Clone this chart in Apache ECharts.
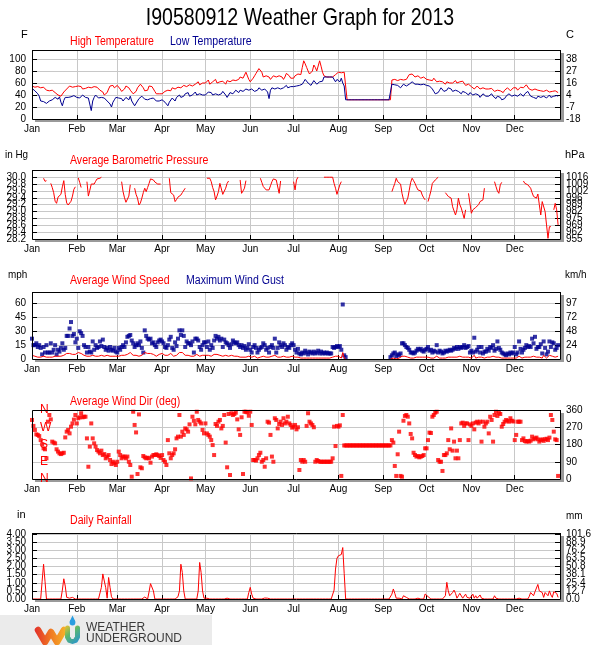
<!DOCTYPE html>
<html>
<head>
<meta charset="utf-8">
<script src="https://cdn.jsdelivr.net/npm/echarts@6/dist/echarts.min.js"></script>
<style>
html, body { margin: 0; padding: 0; background: #fff; }
#chart { width: 600px; height: 645px; }
</style>
</head>
<body>
<div id="chart"></div>
<script>
// month axis
var monthNames = ['Jan','Feb','Mar','Apr','May','Jun','Jul','Aug','Sep','Oct','Nov','Dec'];
var monthStarts = [0,31,59,90,120,151,181,212,243,273,304,334];

// left / right tick labels
var fahrenheitLabels = ['0','20','40','60','80','100'];
var celsiusLabels = ['-18','-7','4','16','27','38'];                       // 0..100 F step 20
var inHgLabels = ['28.2','28.4','28.6','28.8','29.0','29.2','29.4','29.6','29.8','30.0'];
var hpaLabels = ['955','962','969','975','982','989','996','1002','1009','1016'];
var mphLabels = ['0','15','30','45','60'];
var kmhLabels = ['0','24','48','72','97'];
var compassLabels = ['N','E','S','W','N'];                                 // 0..360 step 90
var degLabels = ['0','90','180','270','360'];
var inchLabels = ['0.00','0.50','1.00','1.50','2.00','2.50','3.00','3.50','4.00'];
var mmLabels = ['0.0','12.7','25.4','38.1','50.8','63.5','76.2','88.9','101.6'];

// daily high temperature (F), one line per month
var highTemp = [
  55,57,53,52,54,53,52,54,53,50,48,50,47,45,48,46,44,42,40,43,38,41,45,48,50,52,55,54,53,56,54,
  52,55,57,54,50,52,51,49,53,55,52,50,54,56,53,50,48,46,45,40,38,44,50,55,53,56,52,54,
  56,58,50,46,44,50,55,57,52,48,45,42,40,46,52,55,58,56,52,47,44,48,55,57,54,50,46,42,40,42,44,
  42,44,46,45,48,50,47,52,54,50,48,53,55,52,50,56,58,54,52,57,60,55,52,58,60,62,57,55,60,62,
  60,63,65,58,55,62,64,66,60,58,62,65,63,60,58,64,66,62,60,65,68,64,62,66,70,72,68,65,78,80,66,
  62,64,68,72,76,80,84,87,78,70,68,72,74,70,66,68,72,75,70,68,72,74,70,66,70,76,78,72,68,70,
  68,72,70,75,78,74,86,97,92,86,80,75,72,80,90,86,80,78,97,88,78,72,70,70,70,70,70,70,72,74,76,
  78,75,77,74,78,76,32,32,32,32,32,32,32,32,32,32,32,32,32,32,32,32,32,32,32,32,32,32,32,32,32,
  32,32,32,32,32,32,65,62,66,68,64,63,66,68,65,62,66,70,74,77,75,72,70,68,72,70,68,66,70,68,
  66,68,65,62,64,68,66,62,60,63,65,62,60,58,62,64,60,58,60,62,64,60,58,62,65,63,60,56,55,58,56,
  54,52,50,53,55,52,50,48,52,54,50,47,50,53,51,48,46,44,48,50,47,45,44,48,50,52,49,47,50,52,
  50,52,48,51,53,50,52,55,57,54,50,52,48,46,50,53,48,45,47,50,46,44,48,47,45,48,46,44,47,45,44
];

// daily low temperature (F)
var lowTemp = [
  51,50,47,45,42,38,30,27,29,32,26,25,30,27,32,34,36,35,33,37,28,22,31,36,38,36,35,37,40,39,36,
  36,38,35,37,40,38,36,33,35,38,14,30,36,40,38,35,32,36,38,35,33,30,28,25,20,28,32,36,
  38,35,32,34,30,33,36,35,32,38,30,28,22,25,30,34,36,38,35,33,36,32,30,34,37,35,32,30,28,30,32,
  32,30,28,26,22,28,30,35,33,30,36,38,40,36,34,38,42,40,44,38,36,40,42,45,40,38,42,44,40,38,
  40,42,45,48,44,40,38,42,45,40,38,42,46,44,40,36,40,44,46,42,45,48,46,44,48,50,46,44,50,52,48,
  48,50,52,46,44,48,52,50,48,46,50,52,45,34,48,52,54,50,48,52,55,50,48,52,54,56,52,50,54,56,
  54,56,55,58,56,54,58,62,66,63,60,58,56,60,64,62,58,56,62,65,63,70,70,70,70,70,70,70,68,62,66,
  66,62,68,60,55,32,32,32,32,32,32,32,32,32,32,32,32,32,32,32,32,32,32,32,32,32,32,32,32,32,32,
  32,32,32,32,32,32,58,55,57,60,56,54,52,55,58,57,55,56,58,60,62,60,58,56,58,60,57,55,58,57,
  56,58,55,52,50,46,42,40,44,48,52,50,46,44,48,52,55,50,46,44,48,50,46,44,42,46,48,44,42,40,44,
  42,40,38,42,44,40,36,38,42,40,38,35,38,40,42,38,36,34,38,40,36,32,30,34,38,40,42,40,38,40,
  40,42,38,40,42,40,38,42,44,46,42,38,40,36,38,34,38,40,36,34,38,36,35,38,40,36,34,38,40,39,38
];

// daily average barometric pressure (in Hg), null = no reading
var pressure = [
  null,null,null,null,null,null,null,null,29.97,29.88,29.90,null,null,29.82,29.70,29.55,29.30,29.24,29.42,29.38,29.50,29.72,29.90,29.50,29.25,29.19,29.19,29.30,29.45,29.65,29.72,
  null,29.98,29.85,29.70,null,null,null,29.87,29.45,29.62,29.80,29.85,29.80,29.88,29.95,29.93,29.97,30.00,null,null,null,null,null,null,null,null,null,null,
  null,null,null,29.87,29.58,29.40,29.27,29.27,29.45,29.78,null,null,29.68,29.50,29.39,29.19,29.25,29.39,29.55,29.68,29.58,29.70,29.82,29.95,29.98,29.92,29.86,29.82,29.80,29.81,29.80,
  null,null,null,null,null,29.97,29.55,29.50,29.48,29.29,29.35,29.42,29.44,29.48,29.55,29.58,29.68,null,null,null,null,null,null,null,null,null,null,null,null,null,
  null,29.97,29.95,29.97,29.87,29.70,29.58,29.34,29.45,29.58,29.82,29.78,29.50,29.46,29.68,29.82,29.89,null,null,null,null,null,null,null,29.92,29.53,29.60,29.68,29.90,null,null,
  null,null,null,null,null,null,null,29.97,29.85,29.73,29.68,29.63,29.68,29.63,29.75,29.87,29.95,29.97,29.92,29.87,29.53,29.89,null,null,null,null,null,null,null,null,
  29.87,29.63,29.92,30.00,null,null,null,null,null,null,null,null,null,null,null,null,null,null,null,null,null,30.00,30.00,30.00,30.00,30.00,30.00,30.00,29.82,29.68,29.50,
  29.50,29.78,29.87,null,null,null,null,null,null,null,null,null,null,null,null,null,null,null,null,null,null,null,null,null,null,null,null,null,null,null,null,
  null,null,null,null,null,null,29.58,29.70,29.82,29.97,29.87,29.82,29.80,29.53,29.35,29.21,29.30,29.39,29.62,29.85,29.97,29.90,29.82,29.72,29.63,29.62,29.60,29.48,29.40,29.34,
  null,29.29,29.44,29.60,29.82,29.87,29.92,29.95,30.00,null,null,null,null,29.55,29.50,29.44,29.40,29.39,29.14,29.19,28.90,29.05,29.39,29.20,29.10,28.95,28.80,29.05,null,29.53,29.48,
  28.95,29.05,29.10,29.12,29.14,29.20,29.29,29.32,29.34,29.68,null,null,null,null,null,null,29.87,29.73,29.60,29.53,29.78,29.85,null,null,null,null,null,null,null,null,
  null,null,null,null,null,null,29.89,29.82,29.80,29.78,29.73,29.68,29.55,29.44,29.42,29.39,29.51,29.20,28.90,29.29,29.24,29.00,28.61,28.22,28.56,28.56,null,29.05,29.24,29.05,28.61
];

// daily average wind speed (mph)
var windAvg = [
  4,3,3,3,2,3,2,2,3,2,2,3,2,3,2,2,3,2,3,2,3,3,4,5,6,5,6,7,5,6,5,
  5,7,8,6,5,4,3,3,4,3,2,4,3,3,4,3,5,4,5,3,3,4,3,3,4,3,3,3,
  2,3,3,4,3,4,3,5,6,7,5,4,3,4,4,3,5,4,3,7,9,6,5,6,4,5,4,3,4,5,6,
  6,5,4,3,4,5,6,4,3,5,4,6,7,6,7,5,4,5,4,4,3,5,3,5,5,4,3,3,4,5,
  4,3,4,2,3,3,5,6,5,6,4,5,3,4,4,3,3,3,4,4,3,4,3,3,2,3,2,3,2,3,3,
  2,2,3,3,2,1,2,2,3,3,2,2,1,2,3,3,2,4,2,2,3,2,2,3,2,2,2,2,3,3,
  2,2,1,2,1,1,1,1,2,1,1,1,1,1,1,1,1,1,1,1,1,1,1,1,1,1,1,2,3,3,4,
  3,2,1,7,1,0,null,null,null,null,null,null,null,null,null,null,null,null,null,null,null,null,null,null,null,null,null,null,null,null,null,
  null,null,null,null,null,0,1,1,1,0,1,1,1,3,3,3,2,2,2,1,1,1,1,2,2,2,2,2,1,2,
  2,2,1,1,1,1,1,3,1,1,1,1,1,1,1,2,2,2,2,2,2,2,2,3,2,2,3,2,2,2,1,
  1,1,4,1,2,2,1,2,1,1,1,2,1,2,2,3,2,2,3,2,2,1,1,1,1,1,1,1,1,1,
  2,1,1,3,2,1,2,2,3,2,2,2,4,3,5,2,3,2,3,1,4,2,1,1,4,2,3,3,2,2,3
];

// daily maximum wind gust (mph)
var windGust = [
  22,15,15,17,13,15,12,5,13,7,15,7,7,17,7,10,15,5,10,8,12,17,10,12,25,25,33,40,25,27,18,
  22,12,30,28,25,15,13,7,13,8,7,19,10,15,12,13,19,14,21,13,10,12,9,13,10,9,12,8,
  7,12,10,13,15,13,18,24,25,26,20,17,13,15,17,15,19,12,7,31,25,22,21,22,17,18,15,13,18,20,21,
  19,17,13,12,15,21,24,12,10,18,14,22,31,26,31,25,13,19,17,17,15,19,7,22,22,20,13,10,15,18,
  18,13,19,10,15,12,20,25,22,24,20,22,13,21,18,17,15,12,16,20,18,17,18,15,13,15,12,14,10,12,16,
  10,7,13,15,12,7,10,12,13,17,15,10,12,7,13,15,12,22,7,12,18,15,13,17,15,10,13,12,15,17,
  15,10,7,11,6,5,7,6,9,7,5,8,7,6,8,6,7,9,6,8,6,7,6,7,6,6,6,13,12,13,14,
  13,14,10,59,4,2,null,null,null,null,null,null,null,null,null,null,null,null,null,null,null,null,null,null,null,null,null,null,null,null,null,
  null,null,null,null,null,2,4,6,7,3,5,4,6,17,17,15,13,12,10,7,7,6,7,9,11,10,11,9,8,10,
  11,13,9,10,7,9,8,15,7,9,8,6,7,9,8,9,10,9,10,12,11,13,11,13,12,13,15,12,13,14,7,
  9,7,23,8,10,13,7,13,6,8,8,11,9,13,12,15,9,11,19,12,10,7,6,5,4,6,5,7,6,7,
  13,5,7,19,11,7,10,12,15,13,14,13,22,17,24,11,13,13,16,6,19,12,5,8,19,13,18,17,10,12,15
];

// daily average wind direction (deg)
var windDir = [
  308,277,256,233,230,224,203,181,160,155,108,299,334,311,195,190,186,155,143,134,130,134,137,217,247,256,238,273,290,310,334,
  290,317,322,343,322,325,325,212,64,169,290,212,186,169,151,143,134,148,125,130,108,117,125,99,78,90,82,73,
  90,143,125,108,117,117,108,117,90,73,12,351,282,243,26,337,61,56,120,113,108,111,108,85,117,125,125,129,125,120,110,
  125,99,90,73,203,134,108,125,134,155,212,221,334,221,247,230,264,259,247,285,3,325,304,285,351,308,299,290,256,238,
  290,238,230,221,203,177,125,287,277,299,308,264,277,334,190,61,339,21,343,334,339,346,311,259,230,322,26,351,351,348,330,
  351,282,99,99,96,108,125,137,90,99,64,108,299,294,230,117,90,317,308,264,287,299,282,317,290,299,325,290,282,268,
  273,282,259,270,47,99,90,99,90,277,343,299,290,282,270,90,99,94,90,90,90,90,90,90,90,90,90,108,273,172,277,
  273,280,16,334,175,175,175,175,175,175,175,175,175,175,175,175,175,175,175,175,175,175,175,175,175,175,175,175,175,175,175,
  175,175,175,175,175,175,203,190,68,16,129,247,16,12,304,329,334,325,290,235,212,137,125,117,120,113,117,120,125,160,
  160,203,242,240,325,334,346,351,99,90,90,42,125,125,134,203,155,264,148,195,108,148,108,203,290,294,277,290,290,203,285,
  277,290,259,294,299,290,299,195,299,273,290,299,238,325,308,195,334,351,329,346,339,273,287,299,308,304,299,317,304,300,
  203,230,299,299,299,203,212,198,195,198,195,200,221,207,212,216,207,195,203,207,199,207,210,203,216,334,308,247,207,203,16
];

// daily rainfall (in): days of year with rain and the amount, every other day is 0
var rainDays = [7,8,9,15,21,22,23,24,25,26,28,39,48,49,50,51,52,53,54,55,78,81,82,83,84,
  101,102,103,104,105,115,116,117,118,119,121,135,150,151,152,153,160,161,163,
  209,210,211,212,213,214,215,216,249,250,251,252,254,255,257,258,259,267,272,273,274,275,
  286,287,288,289,290,291,292,293,294,295,296,297,298,299,300,301,302,303,304,305,306,307,308,309,310,311,312,314,318,320,321,
  337,344,345,346,347,348,349,350,351,352,353,354,355,356,357,358,359,360,361,362,363,364];
var rainInches = [1.1,2.15,1.1,0.06,0.55,1.25,0.8,0.1,0.1,0.05,0.1,0.06,0.72,1.55,1.5,0.7,0.05,1.33,0.72,0.14,0.12,0.45,0.95,0.96,0.5,
  0.14,0.5,2.15,1.64,0.5,0.5,2.26,1.64,0.5,0.05,0.05,0.05,0.4,0.72,0.3,0.05,0.06,0.06,0.05,
  0.55,1.85,2.52,2.67,2.73,2.75,3.18,1.58,0.3,0.62,0.35,0.05,0.05,0.12,0.2,0.27,0.1,0.05,0.31,0.3,0.15,0.05,
  0.2,1.03,0.5,0.2,0.3,0.4,0.55,0.35,0.05,0.2,0.35,0.47,0.05,0.1,0.3,0.1,0.2,0.05,0.15,0.3,0.05,0.2,0.05,0.15,0.25,0.05,0.1,0.05,0.05,0.2,0.05,
  0.05,0.15,0.4,0.3,0.2,0.45,0.5,0.9,0.5,0.45,0.4,0.1,0.4,0.45,0.2,0.5,0.25,0.1,0.45,0.5,0.35,0.1];

var FONT = "'Liberation Sans',Arial,sans-serif";
var RED = '#ff0000', NAVY = '#000090', GRID = '#c8c8c8';
var NDAYS = 365;

var rainDaily = [];
for (var d = 0; d < NDAYS; d++) rainDaily.push(0);
rainDays.forEach(function (day, k) { rainDaily[day] = rainInches[k]; });

// x categories: one per day, axis runs to Jan 1 of the next year
var dayIndex = [];
for (var i = 0; i <= 366; i++) dayIndex.push(String(i));

function isMonthStart(idx) { return monthStarts.indexOf(idx) >= 0; }

// label lookup for ticks at min + k*step; from/to limit which labels are shown
function pick(labels, min, step, from, to) {
  from = from || 0;
  to = (to === undefined) ? labels.length - 1 : to;
  return function (v) {
    var k = (v - min) / step;
    var r = Math.round(k);
    if (Math.abs(k - r) > 1e-6 || r < from || r > to) return '';
    return labels[r];
  };
}

var panels = [
  { top: 50,  height: 69, min: 0,    max: 115,   step: 20,  left: fahrenheitLabels, right: celsiusLabels },
  { top: 170, height: 69, min: 28.2, max: 30.21, step: 0.2, left: inHgLabels, right: hpaLabels },
  { top: 292, height: 67, min: 0,    max: 72.5,  step: 15,  left: mphLabels, right: kmhLabels },
  { top: 410, height: 69, min: 0,    max: 360,   step: 90,  left: compassLabels, right: degLabels },
  { top: 533, height: 66, min: 0,    max: 4.08,  step: 0.5, left: inchLabels, right: mmLabels }
];

var grids = [], xAxes = [], yAxes = [], frames = [];
panels.forEach(function (p, i) {
  grids.push({
    left: 32, width: 529, top: p.top, height: p.height,
    show: true, backgroundColor: '#fff', borderWidth: 0,
    shadowColor: '#9a9a9a', shadowOffsetX: 3, shadowOffsetY: 3, shadowBlur: 0
  });
  xAxes.push({
    type: 'category', gridIndex: i, data: dayIndex, boundaryGap: false,
    axisLine: { show: false },
    axisTick: { show: true, inside: true, length: 4, interval: isMonthStart, lineStyle: { color: '#000' } },
    axisLabel: {
      interval: isMonthStart, margin: 5, color: '#000', fontSize: 10, fontFamily: FONT,
      formatter: function (v) { return monthNames[monthStarts.indexOf(Number(v))] || ''; }
    },
    splitLine: { show: true, interval: isMonthStart, lineStyle: { color: GRID, width: 1 } }
  });
  var dirPanel = (i === 3);
  var leftLabel = {
    inside: dirPanel, margin: dirPanel ? 8 : 6, hideOverlap: false,
    color: dirPanel ? RED : '#000', fontSize: dirPanel ? 12 : 10, fontFamily: FONT
  };
  var rightLabel = { margin: 5, hideOverlap: false, color: '#000', fontSize: 10, fontFamily: FONT };
  var base = { type: 'value', gridIndex: i, min: p.min, max: p.max, interval: p.step, axisLine: { show: false } };

  // main axes: all labels except the bottom one (so crowded neighbours are not dropped)
  yAxes.push(Object.assign({}, base, {
    position: 'left',
    axisTick: { show: !dirPanel, inside: true, length: 5, lineStyle: { color: '#000' } },
    axisLabel: Object.assign({ formatter: pick(p.left, p.min, p.step), showMinLabel: false, showMaxLabel: true }, leftLabel),
    splitLine: { show: true, lineStyle: { color: GRID, width: 1 } }
  }));
  yAxes.push(Object.assign({}, base, {
    position: 'right',
    axisTick: { show: true, inside: true, length: 6, lineStyle: { color: '#000' } },
    axisLabel: Object.assign({ formatter: pick(p.right, p.min, p.step), showMinLabel: false, showMaxLabel: true }, rightLabel),
    splitLine: { show: false }
  }));
  // helper axes carrying only the bottom label
  yAxes.push(Object.assign({}, base, {
    position: 'left', axisTick: { show: false }, splitLine: { show: false },
    axisLabel: Object.assign({ formatter: pick(p.left, p.min, p.step, 0, 0), showMinLabel: true, showMaxLabel: false }, leftLabel)
  }));
  yAxes.push(Object.assign({}, base, {
    position: 'right', axisTick: { show: false }, splitLine: { show: false },
    axisLabel: Object.assign({ formatter: pick(p.right, p.min, p.step, 0, 0), showMinLabel: true, showMaxLabel: false }, rightLabel)
  }));
  frames.push({
    type: 'rect', z: 100, silent: true,
    shape: { x: 32.5, y: p.top + 0.5, width: 528, height: p.height },
    style: { fill: null, stroke: '#000', lineWidth: 1 }
  });
});

// text drawn a little condensed, like the original
function label(x, y, text, color, size, align, sx) {
  return {
    type: 'text', x: x, y: y, z: 100, silent: true, scaleX: sx || 1,
    style: { text: text, fill: color || '#000', font: (size || 11) + 'px ' + FONT, align: align || 'left', verticalAlign: 'middle' }
  };
}

var texts = [
  label(300, 18, 'I90580912 Weather Graph for 2013', '#000', 24, 'center', 0.815),
  label(21, 35, 'F'), label(566, 35, 'C'),
  label(70, 42, 'High Temperature', RED, 12, 'left', 0.88), label(170, 42, 'Low Temperature', NAVY, 12, 'left', 0.88),
  label(5, 155, 'in Hg', '#000', 11, 'left', 0.9), label(565, 155, 'hPa'),
  label(70, 161, 'Average Barometric Pressure', RED, 12, 'left', 0.88),
  label(8, 275, 'mph', '#000', 11, 'left', 0.9), label(565, 275, 'km/h', '#000', 11, 'left', 0.9),
  label(70, 281, 'Average Wind Speed', RED, 12, 'left', 0.88), label(186, 281, 'Maximum Wind Gust', NAVY, 12, 'left', 0.88),
  label(70, 402, 'Average Wind Dir (deg)', RED, 12, 'left', 0.88),
  label(17, 515, 'in'), label(566, 516, 'mm', '#000', 11, 'left', 0.9),
  label(70, 521, 'Daily Rainfall', RED, 12, 'left', 0.88)
];

// Weather Underground badge
var logo = [
  { type: 'rect', z: 90, silent: true, shape: { x: 0, y: 615, width: 212, height: 30 }, style: { fill: '#ebebeb' } },
  { type: 'polyline', z: 91, silent: true,
    shape: { points: [[38, 630], [45, 642], [51, 632], [57, 642], [64, 630]] },
    style: { fill: null, lineWidth: 6.5, lineJoin: 'round', lineCap: 'round',
      stroke: new echarts.graphic.LinearGradient(0, 0, 1, 0, [
        { offset: 0, color: '#e2302a' }, { offset: 0.5, color: '#f07a22' }, { offset: 1, color: '#f6b92a' }]) } },
  { type: 'polyline', z: 92, silent: true,
    shape: { points: [[67.5, 628], [67.5, 637], [69.5, 640.5], [72.5, 641.5], [75.5, 640.5], [77.5, 637], [77.5, 628]] },
    style: { fill: null, lineWidth: 5, lineJoin: 'round', lineCap: 'round',
      stroke: new echarts.graphic.LinearGradient(0, 0, 1, 1, [
        { offset: 0, color: '#f2c02c' }, { offset: 0.4, color: '#5cb86a' }, { offset: 1, color: '#1f8ee0' }]) } },
  { type: 'polygon', z: 92, silent: true, shape: { points: [[72.5, 615.5], [75.3, 621.5], [69.7, 621.5]] }, style: { fill: '#2a9de0' } },
  { type: 'circle', z: 92, silent: true, shape: { cx: 72.5, cy: 622.5, r: 2.9 }, style: { fill: '#2a9de0' } },
  { type: 'text', z: 92, silent: true, x: 86, y: 627.5,
    style: { text: 'WEATHER', fill: '#3a3a3a', font: '12px ' + FONT, verticalAlign: 'middle' } },
  { type: 'text', z: 92, silent: true, x: 86, y: 639,
    style: { text: 'UNDERGROUND', fill: '#3a3a3a', font: '12px ' + FONT, verticalAlign: 'middle' } }
];

var lineBase = { type: 'line', symbol: 'none', showSymbol: false, connectNulls: false, animation: false };

var option = {
  animation: false,
  backgroundColor: '#fff',
  grid: grids,
  xAxis: xAxes,
  yAxis: yAxes,
  graphic: frames.concat(texts, logo),
  series: [
    Object.assign({}, lineBase, { name: 'High Temperature', xAxisIndex: 0, yAxisIndex: 0, data: highTemp, lineStyle: { color: RED, width: 1 }, itemStyle: { color: RED } }),
    Object.assign({}, lineBase, { name: 'Low Temperature', xAxisIndex: 0, yAxisIndex: 0, data: lowTemp, lineStyle: { color: NAVY, width: 1 }, itemStyle: { color: NAVY } }),
    Object.assign({}, lineBase, { name: 'Average Barometric Pressure', xAxisIndex: 1, yAxisIndex: 4, data: pressure, lineStyle: { color: RED, width: 1 }, itemStyle: { color: RED } }),
    Object.assign({}, lineBase, { name: 'Average Wind Speed', xAxisIndex: 2, yAxisIndex: 8, data: windAvg, lineStyle: { color: RED, width: 1 }, itemStyle: { color: RED } }),
    { type: 'scatter', name: 'Maximum Wind Gust', xAxisIndex: 2, yAxisIndex: 8, data: windGust, symbol: 'rect', symbolSize: 4, itemStyle: { color: NAVY }, animation: false },
    { type: 'scatter', name: 'Average Wind Dir', xAxisIndex: 3, yAxisIndex: 12, data: windDir, symbol: 'rect', symbolSize: 4, itemStyle: { color: RED }, animation: false },
    Object.assign({}, lineBase, { name: 'Daily Rainfall', xAxisIndex: 4, yAxisIndex: 16, data: rainDaily, lineStyle: { color: RED, width: 1 }, itemStyle: { color: RED } })
  ]
};

var chart = echarts.init(document.getElementById('chart'), null, { renderer: 'canvas' });
chart.setOption(option);
</script>
</body>
</html>
